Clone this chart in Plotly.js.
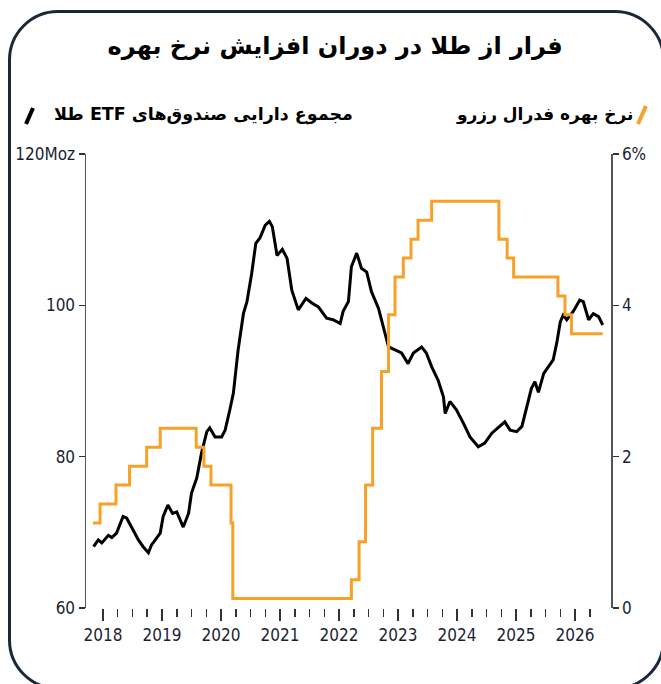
<!DOCTYPE html>
<html>
<head>
<meta charset="utf-8">
<script src="https://cdn.plot.ly/plotly-3.0.1.min.js"></script>
<style>
  html, body { margin: 0; padding: 0; background: #ffffff; overflow: hidden; }
  #frame { position: absolute; left: 8px; top: 10px; width: 657px; height: 680px;
           border: 3px solid #1b2838; border-radius: 50px; box-sizing: border-box; }
  #chart { position: absolute; left: 0; top: 0; width: 661px; height: 684px; }
</style>
</head>
<body>
<div id="frame"></div>
<div id="chart"></div>
<script>
// ---- Data ----
const chartTitle = 'فرار از طلا در دوران افزایش نرخ بهره';
const etfLabel = 'مجموع دارایی صندوق‌های ETF طلا';
const rateLabel = 'نرخ بهره فدرال رزرو';

// Gold ETF holdings (million oz), x in decimal years
const etfYears = [2017.84, 2017.92, 2017.98, 2018.09, 2018.15, 2018.23, 2018.34, 2018.40, 2018.49, 2018.60,
  2018.68, 2018.77, 2018.82, 2018.91, 2018.97, 2019.02, 2019.10, 2019.18, 2019.25, 2019.36,
  2019.45, 2019.50, 2019.59, 2019.67, 2019.76, 2019.81, 2019.90, 2020.01, 2020.07, 2020.15,
  2020.21, 2020.29, 2020.38, 2020.44, 2020.52, 2020.59, 2020.66, 2020.75, 2020.82, 2020.87,
  2020.95, 2021.04, 2021.12, 2021.20, 2021.31, 2021.44, 2021.54, 2021.65, 2021.79, 2021.90,
  2022.02, 2022.07, 2022.16, 2022.21, 2022.30, 2022.38, 2022.47, 2022.55, 2022.67, 2022.75,
  2022.84, 2022.95, 2023.06, 2023.17, 2023.26, 2023.40, 2023.48, 2023.57, 2023.68, 2023.77,
  2023.80, 2023.88, 2023.99, 2024.11, 2024.22, 2024.36, 2024.47, 2024.59, 2024.73, 2024.81,
  2024.90, 2025.01, 2025.10, 2025.18, 2025.26, 2025.32, 2025.38, 2025.47, 2025.56, 2025.63,
  2025.69, 2025.75, 2025.80, 2025.86, 2025.97, 2026.08, 2026.14, 2026.23, 2026.31, 2026.40, 2026.47];
const etfHoldings = [68.1, 69.0, 68.6, 69.6, 69.3, 69.9, 72.1, 71.9, 70.6, 69.0,
  68.1, 67.3, 68.3, 69.2, 69.9, 72.1, 73.6, 72.5, 72.7, 70.7,
  72.5, 75.2, 77.2, 80.5, 83.3, 83.8, 82.6, 82.6, 83.5, 86.2,
  88.4, 94.1, 98.9, 100.5, 104.2, 108.2, 108.9, 110.6, 111.1, 110.4,
  106.6, 107.4, 106.2, 102.0, 99.4, 100.9, 100.3, 99.8, 98.3, 98.1,
  97.6, 99.2, 100.5, 105.1, 106.9, 104.9, 104.4, 101.8, 99.6, 97.2,
  94.5, 94.1, 93.7, 92.3, 93.7, 94.5, 93.7, 91.9, 90.1, 87.9,
  85.7, 87.3, 86.2, 84.4, 82.6, 81.3, 81.8, 83.1, 84.0, 84.6,
  83.5, 83.3, 84.0, 86.6, 89.0, 89.9, 88.5, 91.0, 92.0, 92.8,
  95.0, 97.8, 98.7, 98.1, 99.2, 100.7, 100.5, 98.1, 98.9, 98.5, 97.4];

// Fed funds rate (% , step changes), x in decimal years
const rateYears = [2017.83, 2017.95, 2018.22, 2018.45, 2018.74, 2018.97, 2019.58, 2019.71, 2019.83, 2020.17,
  2020.20, 2022.21, 2022.34, 2022.45, 2022.57, 2022.72, 2022.84, 2022.95, 2023.09, 2023.22,
  2023.34, 2023.57, 2024.71, 2024.85, 2024.96, 2025.71, 2025.83, 2025.94, 2026.47];
const rateValues = [1.125, 1.375, 1.625, 1.875, 2.125, 2.375, 2.125, 1.875, 1.625, 1.125,
  0.125, 0.375, 0.875, 1.625, 2.375, 3.125, 3.875, 4.375, 4.625, 4.875,
  5.125, 5.375, 4.875, 4.625, 4.375, 4.125, 3.875, 3.625, 3.625];

// Tick labels
const yearTicks = [2018, 2019, 2020, 2021, 2022, 2023, 2024, 2025, 2026];
const yearLabels = ['2018', '2019', '2020', '2021', '2022', '2023', '2024', '2025', '2026'];
const leftTicks = [60, 80, 100, 120];
const leftLabels = ['60', '80', '100', '120Moz'];
const rightTicks = [0, 2, 4, 6];
const rightLabels = ['0', '2', '4', '6%'];

// ---- Layout helpers ----
const RTL = s => '\u202B' + s + '\u202C';
const quarterTicks = [];
yearTicks.forEach(y => { [0.25, 0.5, 0.75].forEach(q => quarterTicks.push(y + q)); });
const quarterShown = quarterTicks.filter(v => v <= 2026.3);

const W = 661, H = 684, L = 86, R = 50, T = 154, B = 76;
const pw = W - L - R, ph = H - T - B;
const px = v => (v - L) / pw;          // pixel x -> paper
const py = v => (H - B - v) / ph;      // pixel y -> paper

const tickFont = { family: 'Liberation Sans Narrow, DejaVu Sans Condensed, Arial Narrow, sans-serif', size: 17, color: '#1c1f33' };
const faFont = 'DejaVu Sans, Noto Sans, sans-serif';

const traces = [
  { x: rateYears, y: rateValues, yaxis: 'y2', type: 'scatter', mode: 'lines',
    line: { shape: 'hv', color: '#F7A128', width: 3 }, hoverinfo: 'skip', showlegend: false },
  { x: etfYears, y: etfHoldings, yaxis: 'y', type: 'scatter', mode: 'lines',
    line: { color: '#000000', width: 3 }, hoverinfo: 'skip', showlegend: false }
];

const layout = {
  width: W, height: H,
  margin: { l: L, r: R, t: T, b: B },
  paper_bgcolor: 'rgba(0,0,0,0)', plot_bgcolor: 'rgba(0,0,0,0)',
  showlegend: false,
  title: { text: '<b>' + RTL(chartTitle) + '</b>', x: 0.507, xref: 'container', xanchor: 'center',
           y: 0.933, yref: 'container', yanchor: 'middle',
           font: { family: faFont, size: 24, color: '#000000' } },
  xaxis: {
    type: 'linear', range: [2017.712, 2026.61], showgrid: false, zeroline: false, showline: false,
    tickmode: 'array', tickvals: yearTicks, ticktext: yearLabels,
    ticks: 'outside', ticklen: 12, tickwidth: 1.5, tickcolor: '#333333',
    tickfont: tickFont,
    minor: { tickmode: 'array', tickvals: quarterShown, ticks: 'outside', ticklen: 8, tickwidth: 1.5, tickcolor: '#333333', showgrid: false }
  },
  yaxis: {
    range: [60, 120], showgrid: false, zeroline: false, showline: true, linecolor: '#555555', linewidth: 1.5,
    tickmode: 'array', tickvals: leftTicks, ticktext: leftLabels,
    ticks: 'outside', ticklen: 6, tickwidth: 1.5, tickcolor: '#333333', tickfont: tickFont
  },
  yaxis2: {
    overlaying: 'y', side: 'right', range: [0, 6], showgrid: false, zeroline: false, showline: true,
    linecolor: '#555555', linewidth: 1.5,
    tickmode: 'array', tickvals: rightTicks, ticktext: rightLabels,
    ticks: 'outside', ticklen: 6, tickwidth: 1.5, tickcolor: '#333333', tickfont: tickFont
  },
  annotations: [
    { text: '<b>' + RTL(rateLabel) + '</b>', xref: 'paper', yref: 'paper', x: px(635), y: py(114),
      xanchor: 'right', yanchor: 'middle', showarrow: false,
      font: { family: faFont, size: 17, color: '#000000' } },
    { text: '<b>' + RTL(etfLabel) + '</b>', xref: 'paper', yref: 'paper', x: px(355), y: py(114),
      xanchor: 'right', yanchor: 'middle', showarrow: false,
      font: { family: faFont, size: 17.5, color: '#000000' } }
  ],
  shapes: [
    { type: 'line', xref: 'paper', yref: 'paper', x0: px(638), y0: py(124), x1: px(646), y1: py(106),
      line: { color: '#F7A128', width: 4 } },
    { type: 'line', xref: 'paper', yref: 'paper', x0: px(26), y0: py(124), x1: px(33), y1: py(108),
      line: { color: '#000000', width: 4 } }
  ]
};

Plotly.newPlot('chart', traces, layout, { displayModeBar: false, staticPlot: true });
</script>
</body>
</html>
